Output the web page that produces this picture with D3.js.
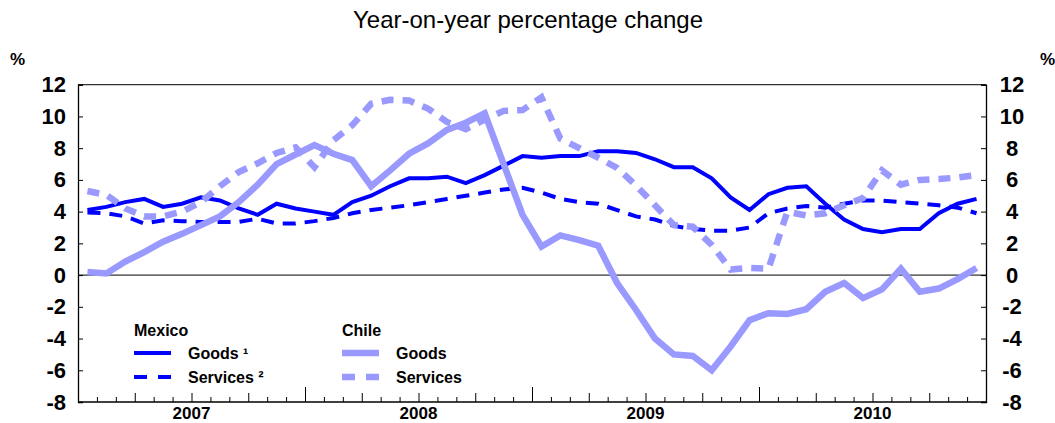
<!DOCTYPE html>
<html>
<head>
<meta charset="utf-8">
<script src="https://cdn.jsdelivr.net/npm/d3@7"></script>
<style>
  html, body { margin: 0; padding: 0; background: #fff; }
  svg { display: block; font-family: "Liberation Sans", Arial, sans-serif; }
</style>
</head>
<body>
<svg id="chart" width="1055" height="423"></svg>
<script>
// ---- Data (monthly, Jan 2007 – Dec 2010) ----
const years = ["2007", "2008", "2009", "2010"];
const yTicks = [-8, -6, -4, -2, 0, 2, 4, 6, 8, 10, 12];

const mexicoGoods = [
  4.1, 4.3, 4.6, 4.8, 4.3, 4.5, 4.9, 4.7, 4.2, 3.8, 4.5, 4.2,
  4.0, 3.8, 4.6, 5.0, 5.6, 6.1, 6.1, 6.2, 5.8, 6.3, 6.9, 7.5,
  7.4, 7.5, 7.5, 7.8, 7.8, 7.7, 7.3, 6.8, 6.8, 6.1, 4.9, 4.1,
  5.1, 5.5, 5.6, 4.5, 3.5, 2.9, 2.7, 2.9, 2.9, 3.9, 4.5, 4.8
];
const mexicoServices = [
  3.95, 3.9, 3.7, 3.25, 3.45, 3.4, 3.35, 3.35, 3.35, 3.55, 3.25, 3.25,
  3.4, 3.6, 3.9, 4.1, 4.25, 4.4, 4.6, 4.8, 5.0, 5.2, 5.4, 5.5,
  5.2, 4.8, 4.6, 4.5, 4.1, 3.7, 3.5, 3.1, 2.9, 2.8, 2.8, 3.0,
  3.9, 4.2, 4.35, 4.25, 4.5, 4.7, 4.7, 4.6, 4.5, 4.4, 4.25, 3.9
];
const chileGoods = [
  0.2, 0.1, 0.85, 1.45, 2.1, 2.6, 3.15, 3.7, 4.6, 5.7, 7.0, 7.6,
  8.2, 7.65, 7.25, 5.6, 6.6, 7.65, 8.3, 9.15, 9.6, 10.2, 7.0, 3.8,
  1.8, 2.5, 2.2, 1.85, -0.5, -2.2, -4.0, -5.0, -5.1, -6.0, -4.5, -2.85,
  -2.4, -2.45, -2.15, -1.05, -0.5, -1.45, -0.9, 0.4, -1.05, -0.85, -0.25, 0.45
];
const chileServices = [
  5.3, 5.05, 4.2, 3.7, 3.7, 4.0, 4.6, 5.6, 6.5, 7.05, 7.7, 8.05,
  6.8, 8.5, 9.45, 10.8, 11.05, 11.0, 10.5, 9.65, 9.2, 9.8, 10.35, 10.4,
  11.2, 8.6, 8.0, 7.4, 6.75, 5.65, 4.4, 3.15, 3.05, 1.9, 0.35, 0.45,
  0.4, 4.0, 3.75, 3.9, 4.4, 4.85, 6.6, 5.7, 6.0, 6.05, 6.15, 6.3
];

const series = [
  { name: "Goods \u00B9",    values: mexicoGoods,    color: "#0000FF", width: 4,   dash: null },
  { name: "Services \u00B2", values: mexicoServices, color: "#0000FF", width: 4,   dash: "13,9" },
  { name: "Goods",           values: chileGoods,     color: "#9999FF", width: 6.5, dash: null },
  { name: "Services",        values: chileServices,  color: "#9999FF", width: 6.5, dash: "12,9" }
];

// ---- Layout ----
const svg = d3.select("#chart");
const plotL = 78, plotR = 986, plotT = 84.7, plotB = 402;
const nMonths = years.length * 12;

const x = d3.scaleLinear().domain([0, nMonths]).range([plotL, plotR]);
const y = d3.scaleLinear().domain([-8, 12]).range([plotB, plotT]);
const fmt = d => String(d);

// Title
svg.append("text")
  .attr("x", 528).attr("y", 28)
  .attr("text-anchor", "middle")
  .attr("font-size", 24)
  .attr("fill", "#000")
  .text("Year-on-year percentage change");

// % labels
svg.append("text").attr("x", 10).attr("y", 65).attr("font-size", 17).attr("font-weight", "bold").text("%");
svg.append("text").attr("x", 1040).attr("y", 65).attr("font-size", 17).attr("font-weight", "bold").text("%");

// Zero line
svg.append("line")
  .attr("x1", plotL).attr("x2", plotR)
  .attr("y1", y(0)).attr("y2", y(0))
  .attr("stroke", "#000").attr("stroke-width", 1);

// Top border
svg.append("line")
  .attr("x1", plotL).attr("x2", plotR)
  .attr("y1", plotT).attr("y2", plotT)
  .attr("stroke", "#333").attr("stroke-width", 1.3);

// Left axis
const gl = svg.append("g").attr("transform", `translate(${plotL},0)`)
  .call(d3.axisLeft(y).tickValues(yTicks).tickSize(-5).tickPadding(12).tickFormat(fmt));
gl.select(".domain").attr("stroke", "#000").attr("stroke-width", 1.3);
gl.selectAll(".tick line").attr("stroke", "#000");
gl.selectAll("text").attr("font-size", 22).attr("font-weight", "bold").attr("fill", "#000")
  .attr("font-family", "Liberation Sans, Arial, sans-serif");

// Right axis
const gr = svg.append("g").attr("transform", `translate(${plotR},0)`)
  .call(d3.axisRight(y).tickValues(yTicks).tickSize(-5).tickPadding(26).tickFormat(fmt));
gr.select(".domain").attr("stroke", "#000").attr("stroke-width", 1.3);
gr.selectAll(".tick line").attr("stroke", "#000");
gr.selectAll("text").attr("font-size", 22).attr("font-weight", "bold").attr("fill", "#000")
  .attr("text-anchor", "middle")
  .attr("font-family", "Liberation Sans, Arial, sans-serif");

// Bottom axis: monthly minor ticks, quarterly medium ticks, yearly major ticks
const monthTicks = d3.range(1, nMonths).filter(m => m % 3 !== 0);
const quarterTicks = d3.range(3, nMonths, 3).filter(m => m % 12 !== 0);
const yearTicks = d3.range(12, nMonths, 12);

function bottomAxis(vals, size) {
  const g = svg.append("g").attr("transform", `translate(0,${plotB})`)
    .call(d3.axisBottom(x).tickValues(vals).tickSize(-size).tickFormat(""));
  g.select(".domain").remove();
  g.selectAll(".tick line").attr("stroke", "#000").attr("stroke-width", 1);
  return g;
}
bottomAxis(monthTicks, 5);
bottomAxis(quarterTicks, 9);
bottomAxis(yearTicks, 15);

svg.append("line")
  .attr("x1", plotL).attr("x2", plotR)
  .attr("y1", plotB).attr("y2", plotB)
  .attr("stroke", "#000").attr("stroke-width", 1.3);

// Year labels
svg.append("g").selectAll("text")
  .data(years)
  .join("text")
  .attr("x", (d, i) => x(i * 12 + 6))
  .attr("y", 419)
  .attr("text-anchor", "middle")
  .attr("font-size", 17)
  .attr("font-weight", "bold")
  .text(d => d);

// Lines
const line = d3.line()
  .x((d, i) => x(i + 0.5))
  .y(d => y(d));

svg.append("clipPath").attr("id", "plotclip")
  .append("rect").attr("x", plotL).attr("y", plotT).attr("width", plotR - plotL).attr("height", plotB - plotT);

const drawOrder = [series[1], series[0], series[3], series[2]];
svg.append("g").attr("clip-path", "url(#plotclip)")
  .selectAll("path")
  .data(drawOrder)
  .join("path")
  .attr("d", d => line(d.values))
  .attr("fill", "none")
  .attr("stroke", d => d.color)
  .attr("stroke-width", d => d.width)
  .attr("stroke-dasharray", d => d.dash)
  .attr("stroke-linejoin", "miter");

// Legend
const legend = svg.append("g").attr("font-size", 16).attr("font-weight", "bold").attr("fill", "#000");
const groups = [
  { title: "Mexico", x: 134, items: [series[0], series[1]] },
  { title: "Chile",  x: 342, items: [series[2], series[3]] }
];
groups.forEach(gp => {
  legend.append("text").attr("x", gp.x).attr("y", 336).text(gp.title);
  gp.items.forEach((s, k) => {
    const ly = 353 + k * 24;
    legend.append("line")
      .attr("x1", gp.x).attr("x2", gp.x + 37)
      .attr("y1", ly).attr("y2", ly)
      .attr("stroke", s.color)
      .attr("stroke-width", s.width)
      .attr("stroke-dasharray", s.dash ? "13,11" : null);
    legend.append("text").attr("x", gp.x + 54).attr("y", ly + 6).text(s.name);
  });
});
</script>
</body>
</html>
